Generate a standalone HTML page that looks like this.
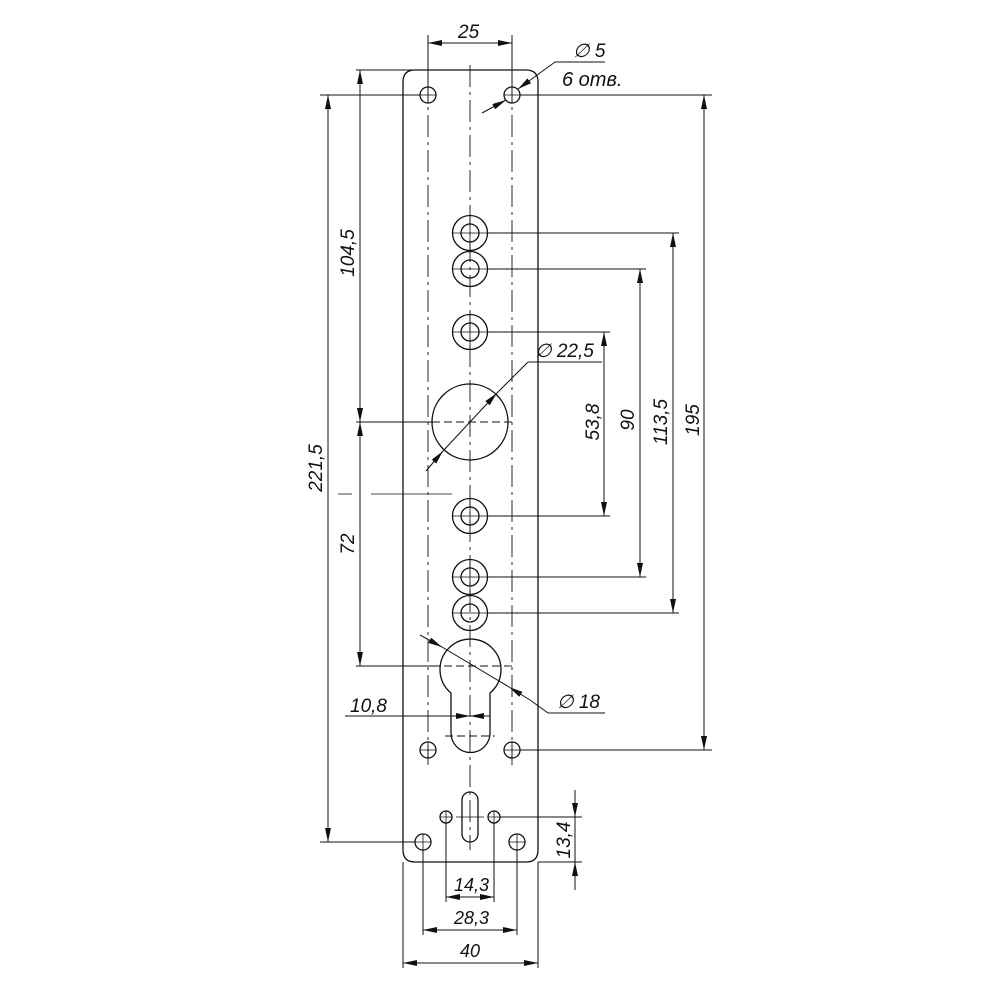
<!DOCTYPE html>
<html><head><meta charset="utf-8"><style>html,body{margin:0;padding:0;background:#fff}svg{display:block}text{font-family:"Liberation Sans",sans-serif;font-style:italic;font-size:19px;fill:#111}</style></head><body>
<svg width="1000" height="1000" viewBox="0 0 1000 1000" xmlns="http://www.w3.org/2000/svg">
<defs>
<marker id="a" viewBox="0 0 14 6" refX="14" refY="3" markerWidth="14" markerHeight="6" orient="auto" markerUnits="userSpaceOnUse"><path d="M0,0 L14,3 L0,6 Z" fill="#111"/></marker>
<marker id="b" viewBox="0 0 14 6" refX="0" refY="3" markerWidth="14" markerHeight="6" orient="auto" markerUnits="userSpaceOnUse"><path d="M14,0 L0,3 L14,6 Z" fill="#111"/></marker>
</defs>
<g fill="none" stroke="#111" stroke-width="1.3">
<path d="M415,70 H526 Q538,70 538,82 V850 Q538,862 526,862 H415 Q403,862 403,850 V82 Q403,70 415,70 Z"/>
<g stroke-width="0.9" stroke-dasharray="22,5,3,5">
<line x1="470" y1="65" x2="470" y2="850"/>
<line x1="428" y1="80" x2="428" y2="765"/>
<line x1="512" y1="80" x2="512" y2="765"/>
</g>
<circle cx="428" cy="95" r="8"/><circle cx="512" cy="95" r="8"/>
<circle cx="428" cy="750" r="8"/><circle cx="512" cy="750" r="8"/>
<circle cx="423" cy="842" r="8"/><circle cx="517" cy="842" r="8"/>
<circle cx="446" cy="817" r="6"/><circle cx="494" cy="817" r="6"/>
<rect x="462" y="792" width="16" height="50" rx="8"/>
<g>
<circle cx="470" cy="233" r="17.5"/><circle cx="470" cy="233" r="9"/>
<circle cx="470" cy="269" r="17.5"/><circle cx="470" cy="269" r="9"/>
<circle cx="470" cy="332" r="17.5"/><circle cx="470" cy="332" r="9"/>
<circle cx="470" cy="516" r="17.5"/><circle cx="470" cy="516" r="9"/>
<circle cx="470" cy="577" r="17.5"/><circle cx="470" cy="577" r="9"/>
<circle cx="470" cy="613" r="17.5"/><circle cx="470" cy="613" r="9"/>
</g>
<circle cx="470" cy="422" r="38"/>
<line x1="432" y1="422" x2="512" y2="422" stroke-width="0.9" stroke-dasharray="8,4"/>
<path d="M451,693 A30.5,30.5 0 1 1 490,693 V733 A19.5,19.5 0 0 1 451,733 Z"/>
<line x1="420" y1="666" x2="515" y2="666" stroke-width="0.9" stroke-dasharray="8,4"/>
<line x1="445" y1="736" x2="495" y2="736" stroke-width="0.9" stroke-dasharray="8,4"/>
<g stroke-width="0.8">
<path d="M420,95h16M428,87v16M504,95h16M512,87v16M420,750h16M428,742v16M504,750h16M512,742v16M415,842h16M423,834v16M509,842h16M517,834v16M440,817h12M446,811v12M488,817h12M494,811v12M456,817h28"/>
<path d="M452,233h36M470,215v36M452,269h36M452,332h36M470,314v36M452,516h36M470,498v36M452,577h36M470,559v36M452,613h36"/>
</g>
</g>
<g fill="none" stroke="#111" stroke-width="1">
<line x1="428" y1="35" x2="428" y2="95"/><line x1="512" y1="35" x2="512" y2="95"/>
<line x1="428" y1="43" x2="512" y2="43" marker-start="url(#b)" marker-end="url(#a)"/>
<line x1="482" y1="113" x2="506" y2="100" marker-end="url(#a)"/>
<line x1="555" y1="62" x2="518" y2="89" marker-end="url(#a)"/>
<line x1="555" y1="62" x2="605" y2="62"/>
<line x1="320" y1="95" x2="420" y2="95"/><line x1="520" y1="95" x2="712" y2="95"/>
<line x1="356" y1="70" x2="415" y2="70"/>
<line x1="320" y1="842" x2="415" y2="842"/>
<line x1="520" y1="750" x2="712" y2="750"/>
<line x1="356" y1="422" x2="432" y2="422"/>
<line x1="356" y1="666" x2="440" y2="666"/>
<line x1="488" y1="233" x2="679" y2="233"/>
<line x1="488" y1="269" x2="646" y2="269"/>
<line x1="488" y1="332" x2="610" y2="332"/>
<line x1="488" y1="516" x2="610" y2="516"/>
<line x1="488" y1="577" x2="646" y2="577"/>
<line x1="488" y1="613" x2="679" y2="613"/>
<line x1="500" y1="817" x2="582" y2="817"/>
<line x1="538" y1="862" x2="582" y2="862"/>
<line x1="338" y1="494" x2="352" y2="494" stroke-width="0.8"/>
<line x1="371" y1="494" x2="452" y2="494" stroke-width="0.8"/>
<line x1="328" y1="95" x2="328" y2="842" marker-start="url(#b)" marker-end="url(#a)"/>
<line x1="360" y1="70" x2="360" y2="422" marker-start="url(#b)" marker-end="url(#a)"/>
<line x1="360" y1="422" x2="360" y2="666" marker-start="url(#b)" marker-end="url(#a)"/>
<line x1="704" y1="95" x2="704" y2="750" marker-start="url(#b)" marker-end="url(#a)"/>
<line x1="673" y1="233" x2="673" y2="613" marker-start="url(#b)" marker-end="url(#a)"/>
<line x1="640" y1="269" x2="640" y2="577" marker-start="url(#b)" marker-end="url(#a)"/>
<line x1="604" y1="332" x2="604" y2="516" marker-start="url(#b)" marker-end="url(#a)"/>
<line x1="575" y1="790" x2="575" y2="817" marker-end="url(#a)"/>
<line x1="575" y1="890" x2="575" y2="862" marker-end="url(#a)"/>
<line x1="575" y1="817" x2="575" y2="862"/>
<line x1="446" y1="823" x2="446" y2="902"/><line x1="494" y1="823" x2="494" y2="902"/>
<line x1="446" y1="897" x2="494" y2="897" marker-start="url(#b)" marker-end="url(#a)"/>
<line x1="423" y1="850" x2="423" y2="935"/><line x1="517" y1="850" x2="517" y2="935"/>
<line x1="423" y1="930" x2="517" y2="930" marker-start="url(#b)" marker-end="url(#a)"/>
<line x1="403" y1="862" x2="403" y2="968"/><line x1="538" y1="862" x2="538" y2="968"/>
<line x1="403" y1="963" x2="538" y2="963" marker-start="url(#b)" marker-end="url(#a)"/>
<line x1="345" y1="716" x2="451" y2="716"/>
<line x1="451" y1="716" x2="470" y2="716" marker-end="url(#a)"/>
<line x1="490" y1="716" x2="470" y2="716" marker-end="url(#a)"/>
<line x1="426" y1="471" x2="443" y2="451" marker-end="url(#a)"/>
<line x1="443" y1="451" x2="497" y2="393" marker-end="url(#a)"/>
<line x1="497" y1="393" x2="528" y2="362"/>
<line x1="528" y1="362" x2="602" y2="362"/>
<line x1="420" y1="635" x2="442" y2="647" marker-end="url(#a)"/>
<line x1="442" y1="647" x2="509" y2="687"/>
<line x1="530" y1="700" x2="509" y2="687" marker-end="url(#a)"/>
<line x1="530" y1="700" x2="548" y2="713"/>
<line x1="548" y1="713" x2="605" y2="713"/>
</g>
<text x="458" y="38">25</text>
<text x="573" y="57">∅ 5</text>
<text x="562" y="86" style="font-size:20px">6 отв.</text>
<text x="535" y="357">∅ 22,5</text>
<text x="557" y="708">∅ 18</text>
<text x="350" y="712">10,8</text>
<text x="454" y="891" style="font-size:18px">14,3</text>
<text x="454" y="924" style="font-size:18px">28,3</text>
<text x="460" y="957" style="font-size:18px">40</text>
<text transform="translate(322,468) rotate(-90)" text-anchor="middle">221,5</text>
<text transform="translate(354,253) rotate(-90)" text-anchor="middle">104,5</text>
<text transform="translate(354,544) rotate(-90)" text-anchor="middle">72</text>
<text transform="translate(599,422) rotate(-90)" text-anchor="middle">53,8</text>
<text transform="translate(634,420) rotate(-90)" text-anchor="middle">90</text>
<text transform="translate(667,422) rotate(-90)" text-anchor="middle">113,5</text>
<text transform="translate(699,420) rotate(-90)" text-anchor="middle">195</text>
<text transform="translate(570,840) rotate(-90)" text-anchor="middle">13,4</text>
</svg>
</body></html>
